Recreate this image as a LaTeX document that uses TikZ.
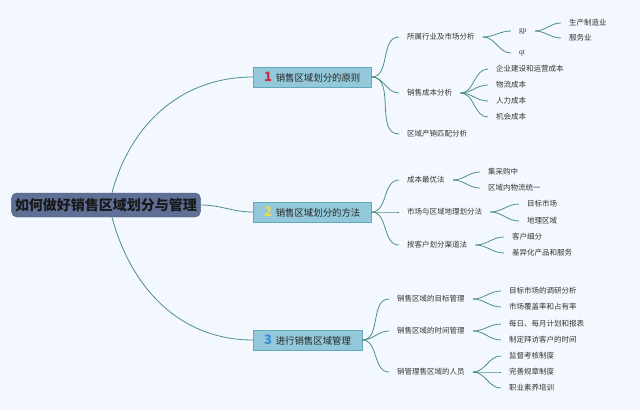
\documentclass[tikz,border=0pt]{standalone}
\usepackage{fontspec}
\setmainfont{Noto Sans CJK SC}
\newfontfamily\latserif{Liberation Serif}
\usetikzlibrary{positioning, calc}
\definecolor{mBg}{HTML}{F3F8FE}
\definecolor{mLine}{HTML}{4E8F86}
\definecolor{mRoot}{HTML}{5F6F96}
\definecolor{mBox}{HTML}{93C8DA}
\definecolor{mBoxLine}{HTML}{62AABB}
\definecolor{mOne}{HTML}{D42A45}
\definecolor{mTwo}{HTML}{F2D64B}
\definecolor{mThree}{HTML}{3B8ED3}

\begin{document}
\begin{tikzpicture}[x=1pt, y=-1pt,
    link/.style={mLine, line width=0.8pt},
    leaf/.style={anchor=west, inner xsep=8pt, inner ysep=1pt, font=\fontsize{7.5}{8}\selectfont, text=black!80},
    branch/.style={anchor=west, fill=mBox, draw=mBoxLine, minimum height=20pt, inner xsep=11pt, inner ysep=0pt, font=\fontsize{9.4}{10}\selectfont, text=black!85},
    num/.style={font=\fontsize{13}{13}\bfseries}]
    \fill[mBg] (0,0) rectangle (640,410);
    \useasboundingbox (0,0) rectangle (640,410);
    % root and main branches
    \node[fill=mRoot, draw=mRoot!80!black, rounded corners=5pt, minimum width=184pt, minimum height=24pt,
      font=\fontsize{14}{16}\bfseries\selectfont, text=black!90] (root) at (106,205) {如何做好销售区域划分与管理};
    \node[branch] (b1) at (253,77) {\textcolor{mOne}{\fontsize{13}{13}\bfseries 1}\, 销售区域划分的原则};
    \node[branch] (b2) at (253,212) {\textcolor{mTwo}{\fontsize{13}{13}\bfseries 2}\, 销售区域划分的方法};
    \node[branch] (b3) at (253,340) {\textcolor{mThree}{\fontsize{13}{13}\bfseries 3}\, 进行销售区域管理};
    \draw[link] ($(root.north)+(6,0)$) to[out=75, in=180] (b1.west);
    \draw[link] (root.east) to[out=0, in=180] (b2.west);
    \draw[link] ($(root.south)+(6,0)$) to[out=-75, in=180] (b3.west);
    % branch 1
    \foreach \t/\y [count=\i] in {所属行业及市场分析/37, 销售成本分析/93, 区域产销匹配分析/134} {
      \node[leaf] (a\i) at (399,\y) {\t};
      \draw[link] (b1.east) to[out=0, in=180] (a\i.west);
    }
    \node[leaf] (gp) at (511,31) {\latserif gp};
    \node[leaf] (qt) at (511,53) {\latserif qt};
    \draw[link] (a1.east) to[out=0, in=180] (gp.west);
    \draw[link] (a1.east) to[out=0, in=180] (qt.west);
    \foreach \t/\y [count=\i] in {生产制造业/23, 服务业/38} {
      \node[leaf] (gp\i) at (561,\y) {\t};
      \draw[link] (gp.east) to[out=0, in=180] (gp\i.west);
    }
    \foreach \t/\y [count=\i] in {企业建设和运营成本/69, 物流成本/85, 人力成本/101, 机会成本/117} {
      \node[leaf] (cost\i) at (488,\y) {\t};
      \draw[link] (a2.east) to[out=0, in=180] (cost\i.west);
    }
    % branch 2
    \foreach \t/\y [count=\i] in {成本最优法/180, 市场与区域地理划分法/212, 按客户划分渠道法/245} {
      \node[leaf] (m\i) at (399,\y) {\t};
      \draw[link] (b2.east) to[out=0, in=180] (m\i.west);
    }
    \foreach \p/\x/\t/\y [count=\i] in {m1/480/集采购中/172, m1/480/区域内物流统一/188,
        m2/519/目标市场/204, m2/519/地理区域/221, m3/504/客户细分/237, m3/504/差异化产品和服务/253} {
      \node[leaf] (mm\i) at (\x,\y) {\t};
      \draw[link] (\p.east) to[out=0, in=180] (mm\i.west);
    }
    % branch 3
    \foreach \t/\y [count=\i] in {销售区域的目标管理/299, 销售区域的时间管理/331, 销管理售区域的人员/372} {
      \node[leaf] (g\i) at (389,\y) {\t};
      \draw[link] (b3.east) to[out=0, in=180] (g\i.west);
    }
    \foreach \p/\t/\y [count=\i] in {g1/目标市场的调研分析/291, g1/市场覆盖率和占有率/307,
        g2/每日、每月计划和报表/324, g2/制定拜访客户的时间/340,
        g3/监督考核制度/356, g3/完善规章制度/372, g3/职业素养培训/388} {
      \node[leaf] (gg\i) at (501,\y) {\t};
      \draw[link] (\p.east) to[out=0, in=180] (gg\i.west);
    }
\end{tikzpicture}
\end{document}
